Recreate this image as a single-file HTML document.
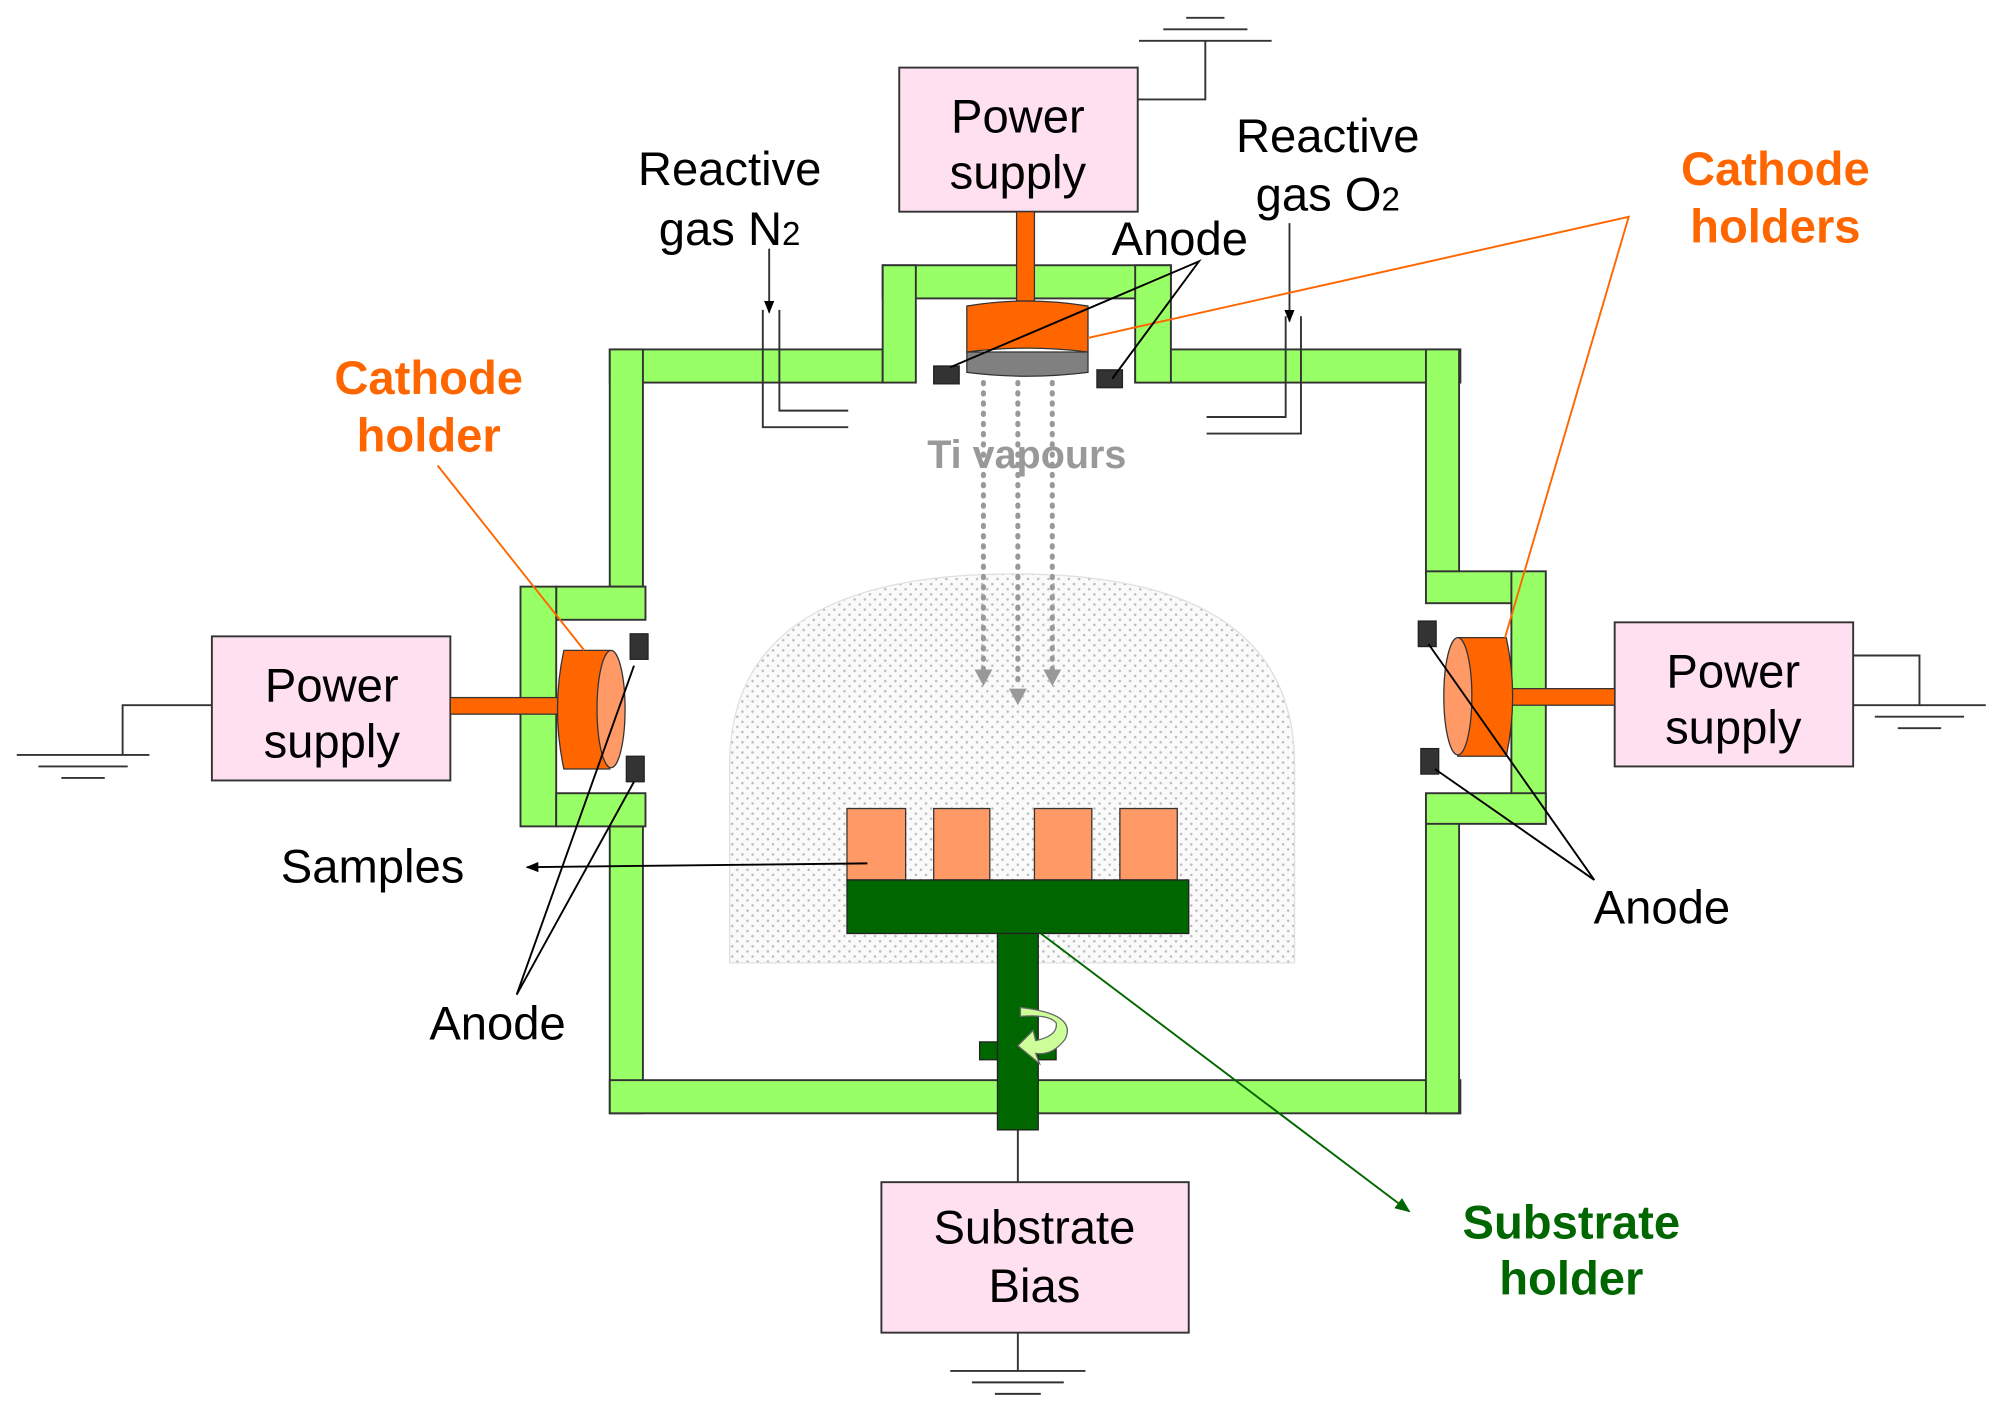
<!DOCTYPE html>
<html><head><meta charset="utf-8"><style>html,body{margin:0;padding:0;background:#fff}svg{display:block}</style></head>
<body>
<svg width="2000" height="1413" viewBox="0 0 1568 1108" xmlns="http://www.w3.org/2000/svg" font-family="Liberation Sans, Arial, sans-serif">
<defs>
<pattern id="dots" width="8" height="8" patternUnits="userSpaceOnUse">
<rect width="8" height="8" fill="#fafafa"/>
<circle cx="2" cy="2" r="1" fill="#bbb"/><circle cx="6" cy="6" r="1" fill="#bbb"/>
</pattern>
<marker id="ab" markerWidth="10" markerHeight="10" refX="9" refY="5" orient="auto" markerUnits="userSpaceOnUse"><path d="M0,1 L10,5 L0,9z" fill="#000"/></marker>
<marker id="ag" markerWidth="12" markerHeight="12" refX="11" refY="6" orient="auto" markerUnits="userSpaceOnUse"><path d="M0,1 L12,6 L0,11z" fill="#006600"/></marker>
</defs>

<path d="M572,755 L572,600 Q572,450 795,450 Q1015,450 1015,600 L1015,755 Z" fill="url(#dots)" stroke="#e0e0e0"/>

<g fill="#99FF66" stroke="#333" stroke-width="1.5">
<rect x="478" y="274" width="214" height="26"/>
<rect x="890" y="274" width="255" height="26"/>
<rect x="478" y="274" width="26" height="186"/>
<rect x="478" y="648" width="26" height="225"/>
<rect x="436" y="460" width="70" height="26"/>
<rect x="408" y="460" width="28" height="188"/>
<rect x="436" y="622" width="70" height="26"/>
<rect x="478" y="847" width="667" height="26"/>
<rect x="1118" y="274" width="26" height="175"/>
<rect x="1118" y="645" width="26" height="228"/>
<rect x="1118" y="448" width="68" height="25"/>
<rect x="1185" y="448" width="27" height="198"/>
<rect x="1118" y="622" width="94" height="24"/>
<rect x="692" y="208" width="226" height="26"/>
<rect x="692" y="208" width="26" height="92"/>
<rect x="890" y="208" width="28" height="92"/>
</g>

<g fill="#FFE0F0" stroke="#333" stroke-width="1.5">
<rect x="705" y="53" width="187" height="113"/>
<rect x="166" y="499" width="187" height="113"/>
<rect x="1266" y="488" width="187" height="113"/>
<rect x="691" y="927" width="241" height="118"/>
</g>
<g font-size="37" text-anchor="middle" fill="#000">
<text x="798" y="104">Power</text><text x="798" y="148">supply</text>
<text x="260" y="550">Power</text><text x="260" y="594">supply</text>
<text x="1359" y="539">Power</text><text x="1359" y="583">supply</text>
<text x="811" y="975">Substrate</text><text x="811" y="1021">Bias</text>
</g>

<g stroke="#333" stroke-width="1.5" fill="none">
<path d="M892,78 H945 V32"/><path d="M893,32H997M912,23H978M930,14H960"/>
<path d="M166,553 H96 V592"/><path d="M13,592H117M30,601H100M48,610H82"/>
<path d="M1453,514 H1505 V553"/><path d="M1453,553H1557M1470,562H1540M1488,571H1522"/>
<path d="M798,886 V927"/><path d="M798,1045 V1075"/><path d="M745,1075H851M762,1084H834M780,1093H816"/>
</g>

<g fill="#FF6600" stroke="#333" stroke-width="1">
<rect x="797" y="166" width="14" height="70"/>
<rect x="353" y="547" width="85" height="13"/>
<rect x="1185" y="540" width="81" height="13"/>
</g>
<path d="M758,276 V292 Q805,298 853,292 V276 Z" fill="#808080" stroke="#333"/>
<path d="M758,240 Q805,232 853,240 V276 Q805,270 758,276 Z" fill="#FF6600" stroke="#333"/>
<path d="M442,510 H478 V603 H442 Q432,556 442,510Z" fill="#FF6600" stroke="#333"/>
<ellipse cx="479" cy="556" rx="11" ry="46" fill="#FF9966" stroke="#333"/>
<path d="M1143,500 H1181 Q1191,546 1181,593 H1143 Z" fill="#FF6600" stroke="#333"/>
<ellipse cx="1143" cy="546" rx="11" ry="46" fill="#FF9966" stroke="#333"/>

<g fill="#333" stroke="#222">
<rect x="732" y="287" width="20" height="14"/><rect x="860" y="290" width="20" height="14"/>
<rect x="494" y="497" width="14" height="20"/><rect x="491" y="593" width="14" height="20"/>
<rect x="1112" y="487" width="14" height="20"/><rect x="1114" y="587" width="14" height="20"/>
</g>

<g stroke="#999" stroke-width="4" stroke-dasharray="1 7" stroke-linecap="round">
<line x1="771" y1="300" x2="771" y2="525"/><line x1="798" y1="300" x2="798" y2="540"/><line x1="825" y1="300" x2="825" y2="525"/>
</g>
<g fill="#999"><path d="M764,525 L778,525 L771,538Z"/><path d="M791,540 L805,540 L798,553Z"/><path d="M818,525 L832,525 L825,538Z"/></g>
<text x="805" y="367" font-size="31" font-weight="bold" fill="#999" text-anchor="middle">Ti vapours</text>

<g stroke="#333" stroke-width="1.5" fill="none">
<path d="M598,243 V335 H665"/><path d="M611,243 V322 H665"/>
<path d="M1020,248 V340 H946"/><path d="M1008,248 V327 H946"/>
<line x1="603" y1="195" x2="603" y2="245" marker-end="url(#ab)"/>
<line x1="1011" y1="175" x2="1011" y2="252" marker-end="url(#ab)"/>
</g>

<g fill="#FF9966" stroke="#333">
<rect x="664" y="634" width="46" height="56"/><rect x="732" y="634" width="44" height="56"/>
<rect x="811" y="634" width="45" height="56"/><rect x="878" y="634" width="45" height="56"/>
</g>
<g fill="#006600" stroke="#222">
<rect x="664" y="690" width="268" height="42"/>
<rect x="768" y="817" width="60" height="14"/>
<rect x="782" y="732" width="32" height="154"/>
</g>
<path d="M800,790 Q845,795 835,815 Q825,828 812,826 L815,834 L798,820 L810,808 L812,816 Q830,812 828,802 Q822,795 800,797Z" fill="#ccff99" stroke="#666"/>

<g stroke="#FF6600" stroke-width="1.5" fill="none">
<path d="M853,265 L1277,170 L1180,500"/>
<line x1="343" y1="365" x2="458" y2="510"/>
</g>
<g stroke="#000" stroke-width="1.5" fill="none">
<path d="M745,288 L940,205 L872,297"/>
<path d="M497,522 L405,780 L497,613"/>
<path d="M1120,505 L1250,690 L1125,603"/>
<line x1="680" y1="677" x2="413" y2="680" marker-end="url(#ab)"/>
</g>
<line x1="816" y1="732" x2="1105" y2="950" stroke="#006600" stroke-width="1.5" marker-end="url(#ag)"/>

<g font-size="37" text-anchor="middle" fill="#000">
<text x="572" y="145">Reactive</text><text x="572" y="192">gas N<tspan font-size="26">2</tspan></text>
<text x="1041" y="119">Reactive</text><text x="1041" y="165">gas O<tspan font-size="26">2</tspan></text>
<text x="925" y="200">Anode</text>
<text x="292" y="692">Samples</text>
<text x="390" y="815">Anode</text>
<text x="1303" y="724">Anode</text>
</g>
<g font-size="37" font-weight="bold" text-anchor="middle" fill="#FF6600">
<text x="1392" y="145">Cathode</text><text x="1392" y="190">holders</text>
<text x="336" y="309">Cathode</text><text x="336" y="354">holder</text>
</g>
<g font-size="37" font-weight="bold" text-anchor="middle" fill="#006600">
<text x="1232" y="971">Substrate</text><text x="1232" y="1015">holder</text>
</g>
</svg>
</body></html>
